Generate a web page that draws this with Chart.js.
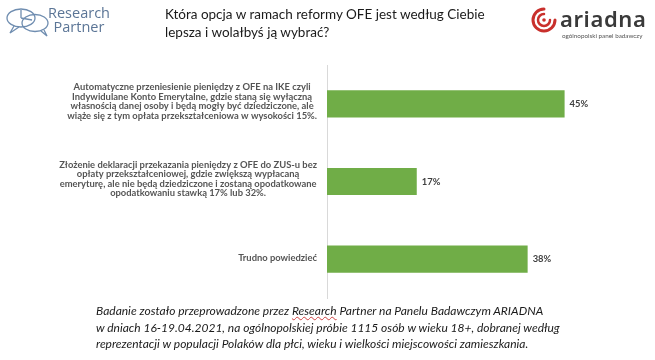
<!DOCTYPE html>
<html>
<head>
<meta charset="utf-8">
<script src="https://cdn.jsdelivr.net/npm/chart.js@4/dist/chart.umd.min.js"></script>
<style>
  html, body { margin:0; padding:0; background:#fff; }
  #wrap { position:relative; width:655px; height:360px; overflow:hidden; background:#fff; }
  #chart { position:absolute; left:0; top:0; }
  .title { position:absolute; left:165px; top:5px; font-family:Lato, "Open Sans", sans-serif; font-size:13.5px; line-height:18px; color:#1a1a1a; }
  .rp { position:absolute; left:4px; top:6px; width:110px; height:32px; }
  .rptext { position:absolute; left:48px; top:6px; font-family:"Open Sans", Lato, sans-serif; font-weight:400; font-size:14.5px; line-height:13.5px; color:#5b7596; text-align:center; }
  .ar { position:absolute; left:530px; top:6px; }
  .artext { position:absolute; left:560px; top:3px; font-family:"Noto Sans", Lato, sans-serif; font-weight:600; font-size:22px; color:#3a3a3a; letter-spacing:0.6px; }
  .arsub { position:absolute; left:562px; top:32px; font-family:Lato, sans-serif; font-size:6.3px; color:#555; }
  .foot { position:absolute; left:96px; top:303px; font-family:Lato, "Open Sans", sans-serif; font-style:italic; font-size:12px; line-height:16.5px; color:#1a1a1a; }
  .sp { text-decoration: underline wavy #d04040; text-decoration-thickness:1px; }
</style>
</head>
<body>
<div id="wrap">
  <canvas id="chart" width="655" height="360"></canvas>

  <svg class="rp" viewBox="0 0 110 32">
    <g fill="none" stroke="#6f8db0" stroke-width="1.3">
      <ellipse cx="17" cy="12" rx="14" ry="9"/>
      <path d="M10 20 L6 27 L15 21"/>
      <ellipse cx="31" cy="17" rx="13" ry="8.5"/>
      <path d="M37 25 L43 30 L40 24"/>
      <path d="M17 12 L17 4 M17 12 L28 14"/>
    </g>
  </svg>
  <div class="rptext">Research<br>Partner</div>

  <div class="title">Która opcja w ramach reformy OFE jest według Ciebie<br>lepsza i wolałbyś ją wybrać?</div>

  <svg class="ar" width="28" height="28" viewBox="0 0 28 28">
    <g fill="none" stroke="#c9302c" stroke-linecap="round">
      <path d="M14 3 A11 11 0 1 0 25 14" stroke-width="3"/>
      <path d="M14 8 A6 6 0 1 0 20 14" stroke-width="2.5"/>
      <circle cx="14" cy="14" r="1.8" fill="#c9302c" stroke="none"/>
    </g>
  </svg>
  <div class="artext">ariadna</div>
  <div class="arsub">ogólnopolski panel badawczy</div>

  <div class="foot">Badanie zostało przeprowadzone przez <span class="sp">Research</span> Partner na Panelu Badawczym ARIADNA<br>w dniach 16-19.04.2021, na ogólnopolskiej próbie 1115 osób w wieku 18+, dobranej według<br>reprezentacji w populacji Polaków dla płci, wieku i wielkości miejscowości zamieszkania.</div>
</div>
<script>
const categories = [
  ["Automatyczne przeniesienie pieniędzy z OFE na IKE czyli",
   "Indywidulane Konto Emerytalne, gdzie staną się wyłączną",
   "własnością danej osoby i będą mogły być dziedziczone, ale",
   "wiąże się z tym opłata przekształceniowa w wysokości 15%."],
  ["Złożenie deklaracji przekazania pieniędzy z OFE do ZUS-u bez",
   "opłaty przekształceniowej, gdzie zwiększą wypłacaną",
   "emeryturę, ale nie będą dziedziczone i zostaną opodatkowane",
   "opodatkowaniu stawką 17% lub 32%."],
  ["Trudno powiedzieć"]
];
const values = [45, 17, 38];
const valueLabels = ["45%", "17%", "38%"];

const labelPlugin = {
  id: 'customLabels',
  afterDatasetsDraw(chart) {
    const ctx = chart.ctx;
    const yScale = chart.scales.y;
    const meta = chart.getDatasetMeta(0);
    ctx.save();
    ctx.font = 'bold 9.4px Lato, "Open Sans", sans-serif';
    ctx.fillStyle = '#555555';
    ctx.textAlign = 'center';
    ctx.textBaseline = 'middle';
    const right = chart.chartArea.left - 10;
    const lineH = 9.6;
    categories.forEach((lines, i) => {
      const y = yScale.getPixelForTick(i);
      let maxW = 0;
      lines.forEach(l => { maxW = Math.max(maxW, ctx.measureText(l).width); });
      const cx = right - maxW / 2;
      const off = lines.length > 1 ? -2.5 : -1;
      lines.forEach((l, j) => {
        ctx.fillText(l, cx, y + off + (j - (lines.length - 1) / 2) * lineH);
      });
    });
    ctx.font = 'bold 9.4px Lato, "Open Sans", sans-serif';
    ctx.fillStyle = '#404040';
    ctx.textAlign = 'left';
    meta.data.forEach((bar, i) => {
      ctx.fillText(valueLabels[i], bar.x + 5, bar.y);
    });
    ctx.restore();
  }
};

new Chart(document.getElementById('chart'), {
  type: 'bar',
  data: {
    labels: categories.map(c => c.join(' ')),
    datasets: [{
      data: values,
      backgroundColor: '#70ad47',
      borderWidth: 0,
      barPercentage: 0.35,
      categoryPercentage: 1.0
    }]
  },
  options: {
    indexAxis: 'y',
    responsive: false,
    animation: false,
    layout: { padding: { left: 327, right: 64, top: 65, bottom: 62 } },
    plugins: { legend: { display: false }, tooltip: { enabled: false } },
    scales: {
      x: { display: false, min: 0, max: 50 },
      y: {
        display: true,
        ticks: { display: false },
        grid: { display: false, drawTicks: false },
        border: { display: true, color: '#d9d9d9', width: 1 }
      }
    }
  },
  plugins: [labelPlugin]
});
</script>
</body>
</html>
